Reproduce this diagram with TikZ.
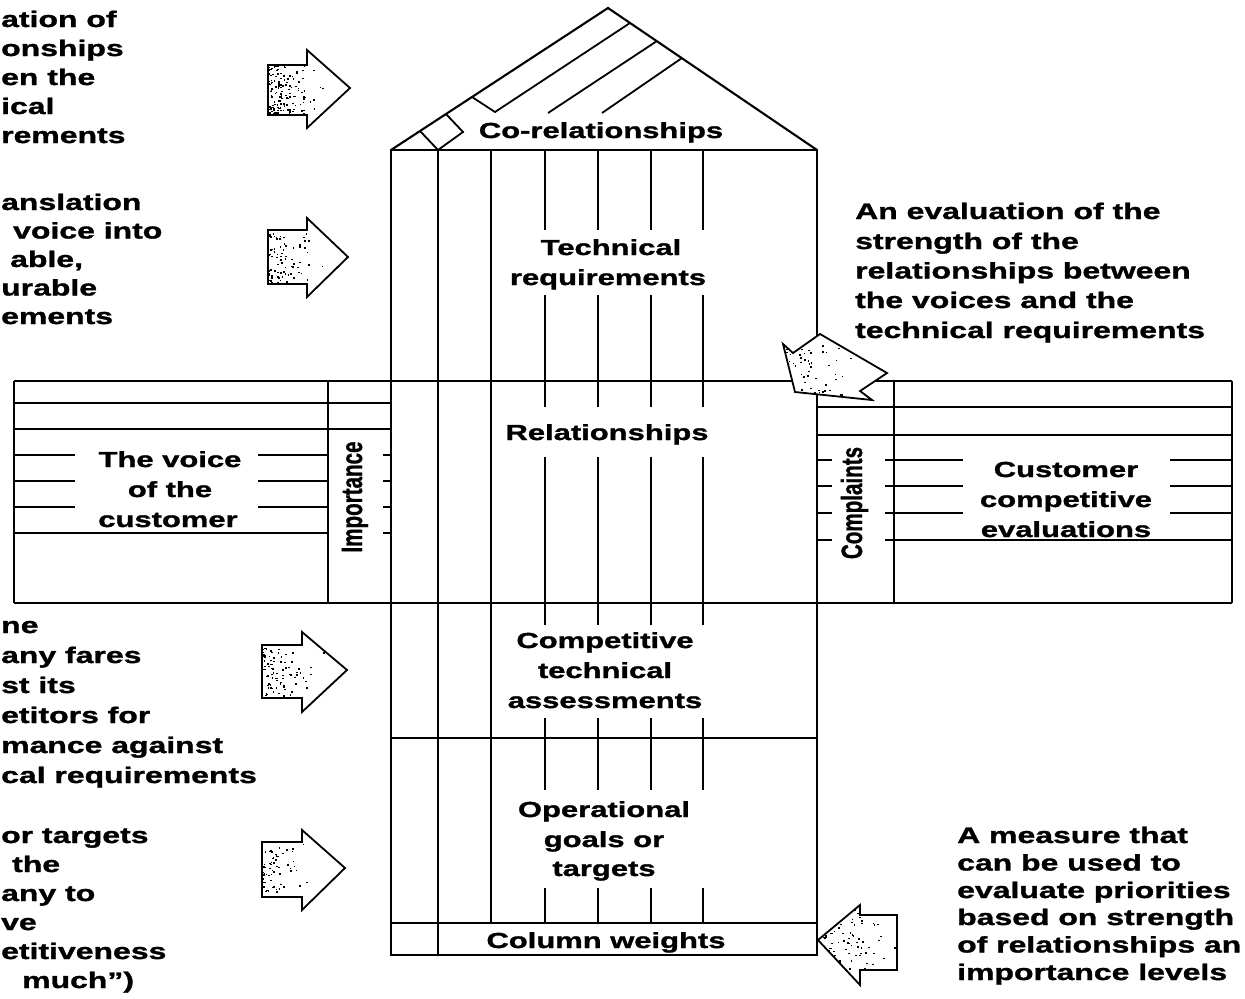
\documentclass[tikz,border=0pt]{standalone}
\usepackage{graphicx}
\usepackage{fontspec}
\newfontfamily\annfont{Liberation Sans}[FakeStretch=1.42, BoldFeatures={FakeBold=1.4}]
\newfontfamily\sidefont{Liberation Sans}[BoldFeatures={FakeBold=1.2}]

% random specks inside a rectangle, denser towards the left edge
\newcommand\speckle[5]{%
  \foreach \k in {1,...,#5}{%
    \pgfmathsetmacro\sx{#1+(#2-#1)*rnd*rnd}%
    \pgfmathsetmacro\sy{#3+(#4-#3)*rnd}%
    \fill (\sx,\sy) rectangle ++(1.7,1.4);
  }}

\begin{document}
\begin{tikzpicture}[x=1bp,y=-1bp,
  ln/.style={line width=1.8bp},
  wall/.style={line width=2.1bp},
  blockarrow/.style={draw, fill=white, line width=1.8bp, line join=miter},
  ann/.style={font=\annfont\bfseries\fontsize{22.5bp}{30bp}\selectfont, inner sep=0pt, anchor=base west},
  lab/.style={font=\annfont\bfseries\fontsize{21.8bp}{30bp}\selectfont, inner sep=0pt, anchor=base},
  side/.style={font=\sidefont\bfseries\fontsize{20.6bp}{24bp}\selectfont, inner sep=0pt, anchor=base, rotate=90}]
\pgfmathsetseed{4711}
\useasboundingbox (0,0) rectangle (1245,999);

% ---------- roof (co-relationship triangle) ----------
\draw[wall, line join=miter] (391,150) -- (608,8) -- (817,150);
\draw[ln] (420,131) -- (438,150) -- (463,132) -- (446,114);
\draw[ln] (472,97) -- (495,112) -- (630,23);
\draw[ln] (548,113) -- (657,41);
\draw[ln] (602,113) -- (682,58);

% ---------- main column ----------
\draw[wall] (391,150) rectangle (817,955);
\draw[ln] (438,150) -- (438,955);
\draw[ln] (491,150) -- (491,923);
\draw[ln] (391,738) -- (817,738);
\draw[ln] (391,923) -- (817,923);
\draw[ln] (14,381) -- (1232,381);
\draw[ln] (14,603) -- (1232,603);
\foreach \cx in {545,598,651,703} {
  \draw[ln] (\cx,150) -- (\cx,230);
  \draw[ln] (\cx,295) -- (\cx,407);
  \draw[ln] (\cx,457) -- (\cx,625);
  \draw[ln] (\cx,718) -- (\cx,790);
  \draw[ln] (\cx,888) -- (\cx,923);
}

% ---------- left room ----------
\draw[ln] (14,381) -- (14,603);
\draw[ln] (328,381) -- (328,603);
\draw[ln] (14,403) -- (391,403);
\draw[ln] (14,429) -- (391,429);
\draw[ln] (14,533) -- (328,533);
\foreach \ry in {455,481,507} {
  \draw[ln] (14,\ry) -- (75,\ry);
  \draw[ln] (258,\ry) -- (328,\ry);
}
\foreach \ry in {455,481,507,533} \draw[ln] (383,\ry) -- (391,\ry);

% ---------- right room ----------
\draw[ln] (894,381) -- (894,603);
\draw[ln] (1232,381) -- (1232,603);
\draw[ln] (817,407) -- (1232,407);
\draw[ln] (817,435) -- (1232,435);
\draw[ln] (885,540) -- (1232,540);
\foreach \ry in {460,486,513} {
  \draw[ln] (885,\ry) -- (963,\ry);
  \draw[ln] (1170,\ry) -- (1232,\ry);
}
\foreach \ry in {460,486,513,540} \draw[ln] (817,\ry) -- (832,\ry);

% ---------- labels inside the house ----------
\node[lab] (corel) at (601,138) {Co-relationships};
\node[lab] (tech1) at (611,255) {Technical};
\node[lab] (tech2) at (608,285) {requirements};
\node[lab] (rel)   at (607,440) {Relationships};
\node[lab] (cta1)  at (605,648) {Competitive};
\node[lab] (cta2)  at (605,678) {technical};
\node[lab] (cta3)  at (605,708) {assessments};
\node[lab] (opg1)  at (604,817) {Operational};
\node[lab] (opg2)  at (604,847) {goals or};
\node[lab] (opg3)  at (604,876) {targets};
\node[lab] (colw)  at (606,948) {Column weights};
\node[lab] (voc1)  at (170,467) {The voice};
\node[lab] (voc2)  at (170,497) {of the};
\node[lab] (voc3)  at (168,527) {customer};
\node[lab] (cce1)  at (1066,477) {Customer};
\node[lab] (cce2)  at (1066,507) {competitive};
\node[lab] (cce3)  at (1066,537) {evaluations};
\node[side] (imp)  at (362,497) {\scalebox{1}[1.42]{Importance}};
\node[side] (cmp)  at (862,503) {\scalebox{1}[1.42]{Complaints}};

% ---------- block arrows ----------
% arrow 1
\path[blockarrow] (268,65) -- (307,65) -- (307,50) -- (350,88) -- (307,128) -- (307,115) -- (268,115) -- cycle;
\begin{scope}
  \clip (268,65) -- (307,65) -- (307,50) -- (350,88) -- (307,128) -- (307,115) -- (268,115) -- cycle;
  \speckle{268}{325}{65}{115}{150}
\end{scope}
% arrow 2
\path[blockarrow] (268,230) -- (307,230) -- (307,218) -- (348,257) -- (307,297) -- (307,284) -- (268,284) -- cycle;
\begin{scope}
  \clip (268,230) -- (307,230) -- (307,218) -- (348,257) -- (307,297) -- (307,284) -- (268,284) -- cycle;
  \speckle{268}{325}{232}{282}{80}
\end{scope}
% arrow 3
\path[blockarrow] (262,645) -- (302,645) -- (302,632) -- (347,670) -- (302,712) -- (302,698) -- (262,698) -- cycle;
\begin{scope}
  \clip (262,645) -- (302,645) -- (302,632) -- (347,670) -- (302,712) -- (302,698) -- (262,698) -- cycle;
  \speckle{262}{325}{647}{696}{85}
\end{scope}
% arrow 4
\path[blockarrow] (262,842) -- (302,842) -- (302,830) -- (345,868) -- (302,910) -- (302,897) -- (262,897) -- cycle;
\begin{scope}
  \clip (262,842) -- (302,842) -- (302,830) -- (345,868) -- (302,910) -- (302,897) -- (262,897) -- cycle;
  \speckle{262}{318}{844}{895}{60}
\end{scope}
% arrow 5 (slanted, towards the relationship matrix)
\path[blockarrow] (783,344) -- (795,392) -- (872,400) -- (860,391) -- (887,373) -- (820,334) -- (793,353) -- cycle;
\begin{scope}
  \clip (783,344) -- (795,392) -- (872,400) -- (860,391) -- (887,373) -- (820,334) -- (793,353) -- cycle;
  \speckle{785}{870}{345}{395}{65}
\end{scope}
% arrow 6 (towards the column weights)
\path[blockarrow] (897,915) -- (860,915) -- (860,905) -- (818,940) -- (860,985) -- (860,970) -- (897,970) -- cycle;
\begin{scope}
  \clip (897,915) -- (860,915) -- (860,905) -- (818,940) -- (860,985) -- (860,970) -- (897,970) -- cycle;
  \speckle{822}{897}{905}{982}{150}
\end{scope}

% ---------- annotations ----------
\node[ann] (n1a) at (1,27)  {ation of};
\node[ann] (n1b) at (1,56)  {onships};
\node[ann] (n1c) at (1,85)  {en the};
\node[ann] (n1d) at (1,114) {ical};
\node[ann] (n1e) at (1,143) {rements};

\node[ann] (n2a) at (1,210)    {anslation};
\node[ann] (n2b) at (13,238.5) {voice into};
\node[ann] (n2c) at (10,267)   {able,};
\node[ann] (n2d) at (1,295.5)  {urable};
\node[ann] (n2e) at (1,324)    {ements};

\node[ann] (n3a) at (1,633) {ne};
\node[ann] (n3b) at (1,663) {any fares};
\node[ann] (n3c) at (1,693) {st its};
\node[ann] (n3d) at (1,723) {etitors for};
\node[ann] (n3e) at (1,753) {mance against};
\node[ann] (n3f) at (1,783) {cal requirements};

\node[ann] (n4a) at (1,843)  {or targets};
\node[ann] (n4b) at (12,872) {the};
\node[ann] (n4c) at (1,901)  {any to};
\node[ann] (n4d) at (1,930)  {ve};
\node[ann] (n4e) at (1,959)  {etitiveness};
\node[ann] (n4f) at (22,988) {much”)};

\node[ann] (n5a) at (855,219)   {An evaluation of the};
\node[ann] (n5b) at (855,249)   {strength of the};
\node[ann] (n5c) at (855,278.5) {relationships between};
\node[ann] (n5d) at (855,308)   {the voices and the};
\node[ann] (n5e) at (855,338)   {technical requirements};

\node[ann] (n6a) at (957,843)   {A measure that};
\node[ann] (n6b) at (957,870.5) {can be used to};
\node[ann] (n6c) at (957,898)   {evaluate priorities};
\node[ann] (n6d) at (957,925)   {based on strength};
\node[ann] (n6e) at (957,952.5) {of relationships an};
\node[ann] (n6f) at (957,980)   {importance levels};
\end{tikzpicture}
\end{document}
